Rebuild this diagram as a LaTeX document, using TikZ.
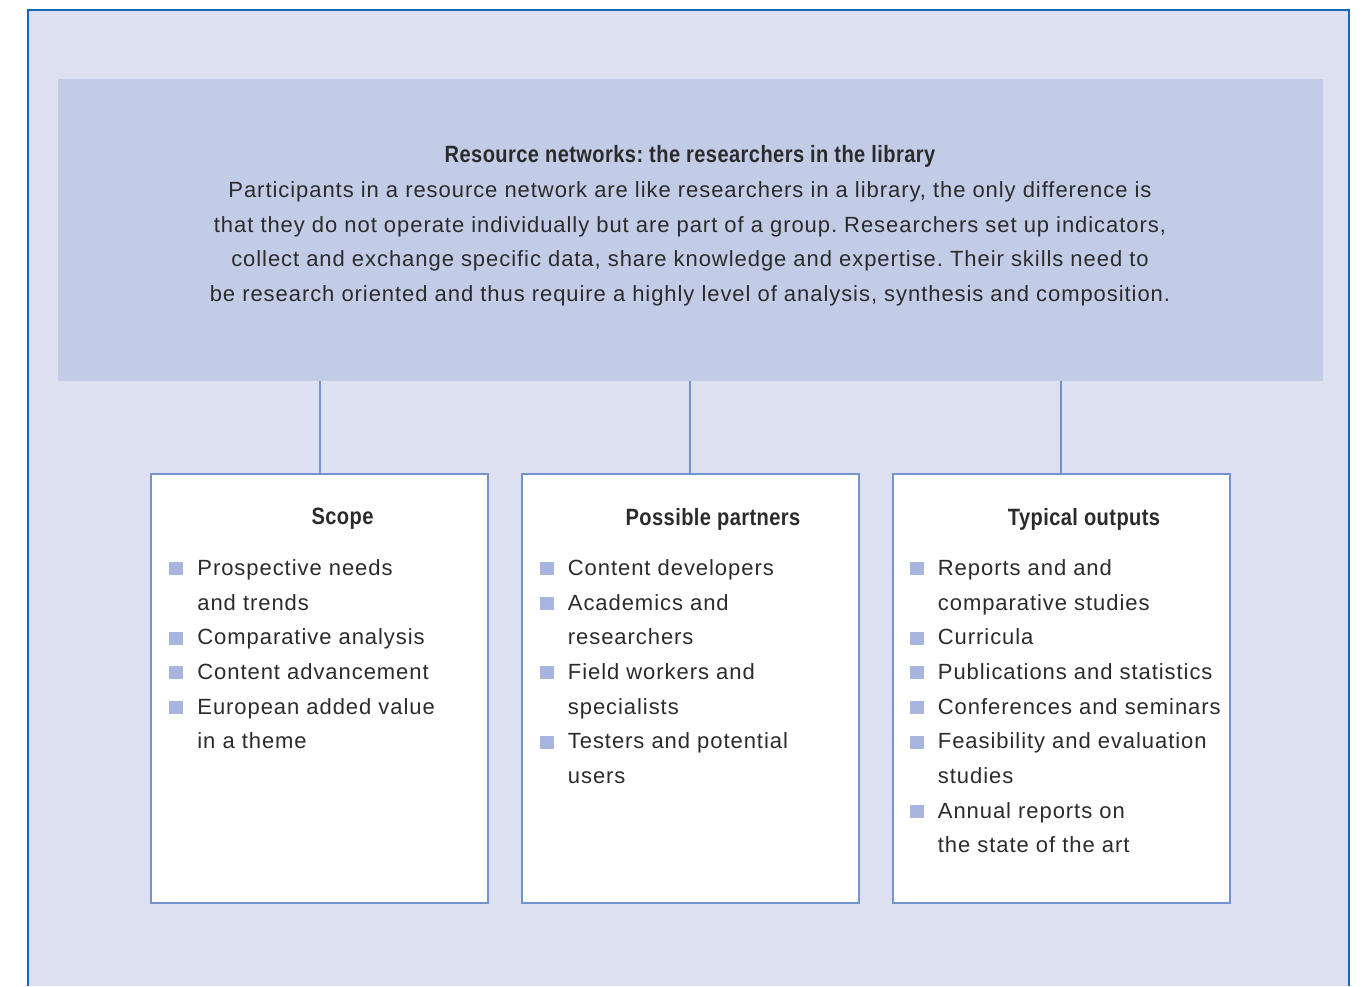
\documentclass[tikz,border=0pt]{standalone}
\usepackage{fontspec}
\usepackage{xcolor}
\usetikzlibrary{positioning,calc}
\setmainfont[LetterSpace=4.3]{Liberation Sans}
\newfontfamily\condfont[FakeStretch=0.85, LetterSpace=1.8]{Liberation Sans}
\frenchspacing
\definecolor{pagefill}{HTML}{DDE0F1}
\definecolor{headfill}{HTML}{C3CCE7}
\definecolor{frameblue}{HTML}{1A67B8}
\definecolor{boxline}{HTML}{7393CD}
\definecolor{bulletblue}{HTML}{A8B6DF}
\definecolor{inktext}{HTML}{2B2B2B}
\newcommand{\sq}{\makebox[14pt][l]{\textcolor{bulletblue}{\rule{7pt}{6.6pt}}}}
\newcommand{\ind}{\hspace*{14pt}}
\begin{document}
\begin{tikzpicture}[x=0.5pt, y=-0.5pt,
    every node/.style={text=inktext, font=\fontsize{11}{17.35}\selectfont},
    group/.style={draw=boxline, line width=1pt, fill=white, minimum width=168.5pt, minimum height=214.5pt, inner sep=0pt},
    heading/.style={font=\condfont\bfseries\fontsize{11.8}{17.35}\selectfont},
    items/.style={align=left, inner sep=0pt, anchor=north west}]
                        \useasboundingbox (0, 0) rectangle (1364, 986);
                        \fill[pagefill] (28, 10) rectangle (1349, 986);
                        \draw[frameblue, line width=1pt] (28, 986) -- (28, 10) -- (1349, 10) -- (1349, 986);
                        \fill[headfill] (58, 79) rectangle (1323, 381);
                        \coordinate (headbase) at (690, 381);
                        \node[align=center] (head) at (690, 226) {{\condfont\bfseries\fontsize{11.8}{17.35}\selectfont Resource networks: the researchers in the library}\\
                        Participants in a resource network are like researchers in a library, the only difference is\\
                        that they do not operate individually but are part of a group. Researchers set up indicators,\\
                        collect and exchange specific data, share knowledge and expertise. Their skills need to\\
                        be research oriented and thus require a highly level of analysis, synthesis and composition.};
                        \node[group, anchor=north west] (scope) at (150, 473) {};
                        \node[group, anchor=north west] (partners) at (520.5, 473) {};
                        \node[group, anchor=north west] (outputs) at (891.5, 473) {};
                        \foreach \g in {scope, partners, outputs}
                        \draw[boxline, line width=1pt] (\g.north) -- (\g.north |- headbase);
                        \node[heading] at ($(scope.north) + (23, 46)$) {Scope};
                        \node[heading] at ($(partners.north) + (23, 46)$) {Possible partners};
                        \node[heading] at ($(outputs.north) + (23, 46)$) {Typical outputs};
                        \node[items] at ($(scope.north west) + (19, 86)$) {\sq Prospective needs\\ \ind and trends\\ \sq Comparative analysis\\ \sq Content advancement\\ \sq European added value\\ \ind in a theme};
                        \node[items] at ($(partners.north west) + (19, 86)$) {\sq Content developers\\ \sq Academics and\\ \ind researchers\\ \sq Field workers and\\ \ind specialists\\ \sq Testers and potential\\ \ind users};
                        \node[items] at ($(outputs.north west) + (18, 86)$) {\sq Reports and and\\ \ind comparative studies\\ \sq Curricula\\ \sq Publications and statistics\\ \sq Conferences and seminars\\ \sq Feasibility and evaluation\\ \ind studies\\ \sq Annual reports on\\ \ind the state of the art};
                    \end{tikzpicture}
\end{document}
